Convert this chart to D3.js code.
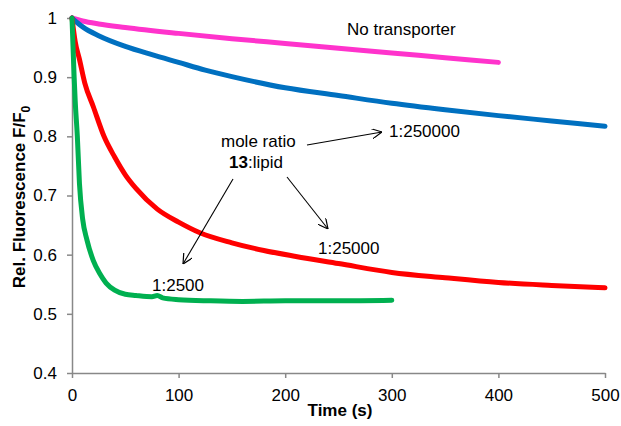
<!DOCTYPE html>
<html lang="en">
<head>
	<meta charset="UTF-8">
	<title>Fluorescence decay</title>
	<script src="https://cdn.jsdelivr.net/npm/d3@7/dist/d3.min.js"></script>
	<style>
		body { margin: 0; background: #fff; }
		text { font-family: "Liberation Sans", Arial, sans-serif; }
	</style>
</head>
<body>
	<div id="container"></div>
	<script>
		var width = 621;
		var height = 426;

		// time (s) / relative fluorescence
		var noTransT = [0, 10, 25, 50, 100, 150, 200, 250, 300, 350, 400];
		var noTransV = [1, 0.995, 0.99, 0.984, 0.974, 0.965, 0.957, 0.949, 0.941, 0.933, 0.925];

		var r250000T = [0, 5, 10, 25, 50, 75, 100, 125, 150, 200, 250, 300, 350, 400, 450, 500];
		var r250000V = [1, 0.992, 0.985, 0.97, 0.952, 0.938, 0.925, 0.912, 0.901, 0.882, 0.869, 0.856, 0.845, 0.835, 0.826, 0.817];

		var r25000T = [0, 3, 7, 12, 20, 30, 40, 50, 60, 80, 100, 120, 150, 180, 210, 250, 300, 350, 400, 450, 500];
		var r25000V = [1, 0.96, 0.93, 0.89, 0.85, 0.80, 0.765, 0.735, 0.712, 0.677, 0.655, 0.637, 0.62, 0.607, 0.597, 0.585, 0.57, 0.561, 0.553, 0.548, 0.544];

		var r2500T = [0, 1, 2, 3, 5, 7, 10, 14, 20, 26, 32, 40, 50, 60, 75, 80, 85, 100, 130, 160, 200, 250, 300];
		var r2500V = [1, 0.95, 0.9, 0.86, 0.8, 0.72, 0.66, 0.625, 0.59, 0.568, 0.552, 0.54, 0.533, 0.531, 0.529, 0.531, 0.527, 0.524, 0.522, 0.521, 0.522, 0.522, 0.523];

		var xTicks = [0, 100, 200, 300, 400, 500];
		var yTicks = [0.4, 0.5, 0.6, 0.7, 0.8, 0.9, 1];

		var series = [
			{ t: noTransT, v: noTransV, color: "#ff33cc" },
			{ t: r250000T, v: r250000V, color: "#0070c0" },
			{ t: r25000T, v: r25000V, color: "#ff0000" },
			{ t: r2500T, v: r2500V, color: "#00b050" }
		];

		var svg = d3.select("#container").append("svg")
				.attr("width", width)
				.attr("height", height);

		var x = d3.scaleLinear().domain([0, 500]).range([72, 605]);
		var y = d3.scaleLinear().domain([0.4, 1]).range([373, 18]);

		var axisColor = "#888";

		var xAxis = svg.append("g")
				.attr("transform", "translate(0," + y(0.4) + ")")
				.call(d3.axisBottom(x).tickValues(xTicks).tickSize(5).tickSizeOuter(0).tickFormat(d3.format("d")));
		var yAxis = svg.append("g")
				.attr("transform", "translate(" + x(0) + ",0)")
				.call(d3.axisLeft(y).tickValues(yTicks).tickSize(5).tickSizeOuter(0).tickFormat(d => d === 1 ? "1" : d3.format(".1f")(d)));

		[xAxis, yAxis].forEach(g => {
			g.select(".domain").attr("stroke", axisColor).attr("stroke-width", 1.5);
			g.selectAll(".tick line").attr("stroke", axisColor).attr("stroke-width", 1.5);
			g.selectAll(".tick text")
				.attr("fill", "#000")
				.style("font-size", "17px")
				.style("font-family", "Liberation Sans, Arial, sans-serif");
		});
		xAxis.selectAll(".tick text").attr("dy", "1.2em");
		yAxis.selectAll(".tick text").attr("x", -15);

		var line = d3.line()
				.x(d => x(d[0]))
				.y(d => y(d[1]))
				.curve(d3.curveMonotoneX);

		svg.selectAll(".series").data(series)
			.enter().append("path")
				.attr("class", "series")
				.attr("d", s => line(s.t.map((t, i) => [t, s.v[i]])))
				.attr("fill", "none")
				.attr("stroke", s => s.color)
				.attr("stroke-width", 5)
				.attr("stroke-linecap", "round")
				.attr("stroke-linejoin", "round");

		// axis titles
		svg.append("text")
			.attr("x", 340)
			.attr("y", 416)
			.attr("text-anchor", "middle")
			.style("font-size", "17px")
			.style("font-weight", "bold")
			.text("Time (s)");

		var yt = svg.append("text")
			.attr("transform", "translate(25,197) rotate(-90)")
			.attr("text-anchor", "middle")
			.style("font-size", "17px")
			.style("font-weight", "bold");
		yt.append("tspan").text("Rel. Fluorescence F/F");
		yt.append("tspan").attr("dy", 5).style("font-size", "12px").text("0");

		// annotations
		var defs = svg.append("defs");
		defs.append("marker")
			.attr("id", "arrow")
			.attr("viewBox", "0 0 10 10")
			.attr("refX", 10).attr("refY", 5)
			.attr("markerWidth", 10).attr("markerHeight", 10)
			.attr("markerUnits", "userSpaceOnUse")
			.attr("orient", "auto")
			.append("path")
				.attr("d", "M0,0 L10,5 L0,10")
				.attr("fill", "none")
				.attr("stroke", "#000")
				.attr("stroke-width", 1.2);

		var arrows = [
			[[307, 145], [382, 132]],
			[[287, 177], [328, 229]],
			[[233, 179], [183, 264]]
		];
		svg.selectAll(".arrow").data(arrows)
			.enter().append("line")
				.attr("x1", d => d[0][0]).attr("y1", d => d[0][1])
				.attr("x2", d => d[1][0]).attr("y2", d => d[1][1])
				.attr("stroke", "#000")
				.attr("stroke-width", 1.1)
				.attr("marker-end", "url(#arrow)");

		var labels = [
			{ text: "No transporter", x: 347, y: 35 },
			{ text: "1:250000", x: 389, y: 137 },
			{ text: "1:25000", x: 318, y: 254 },
			{ text: "1:2500", x: 152, y: 291 },
			{ text: "mole ratio", x: 221, y: 147 }
		];
		svg.selectAll(".label").data(labels)
			.enter().append("text")
				.attr("x", d => d.x)
				.attr("y", d => d.y)
				.style("font-size", "17px")
				.text(d => d.text);

		var ml = svg.append("text")
			.attr("x", 229)
			.attr("y", 168)
			.style("font-size", "17px");
		ml.append("tspan").style("font-weight", "bold").text("13");
		ml.append("tspan").text(":lipid");
	</script>
</body>
</html>
